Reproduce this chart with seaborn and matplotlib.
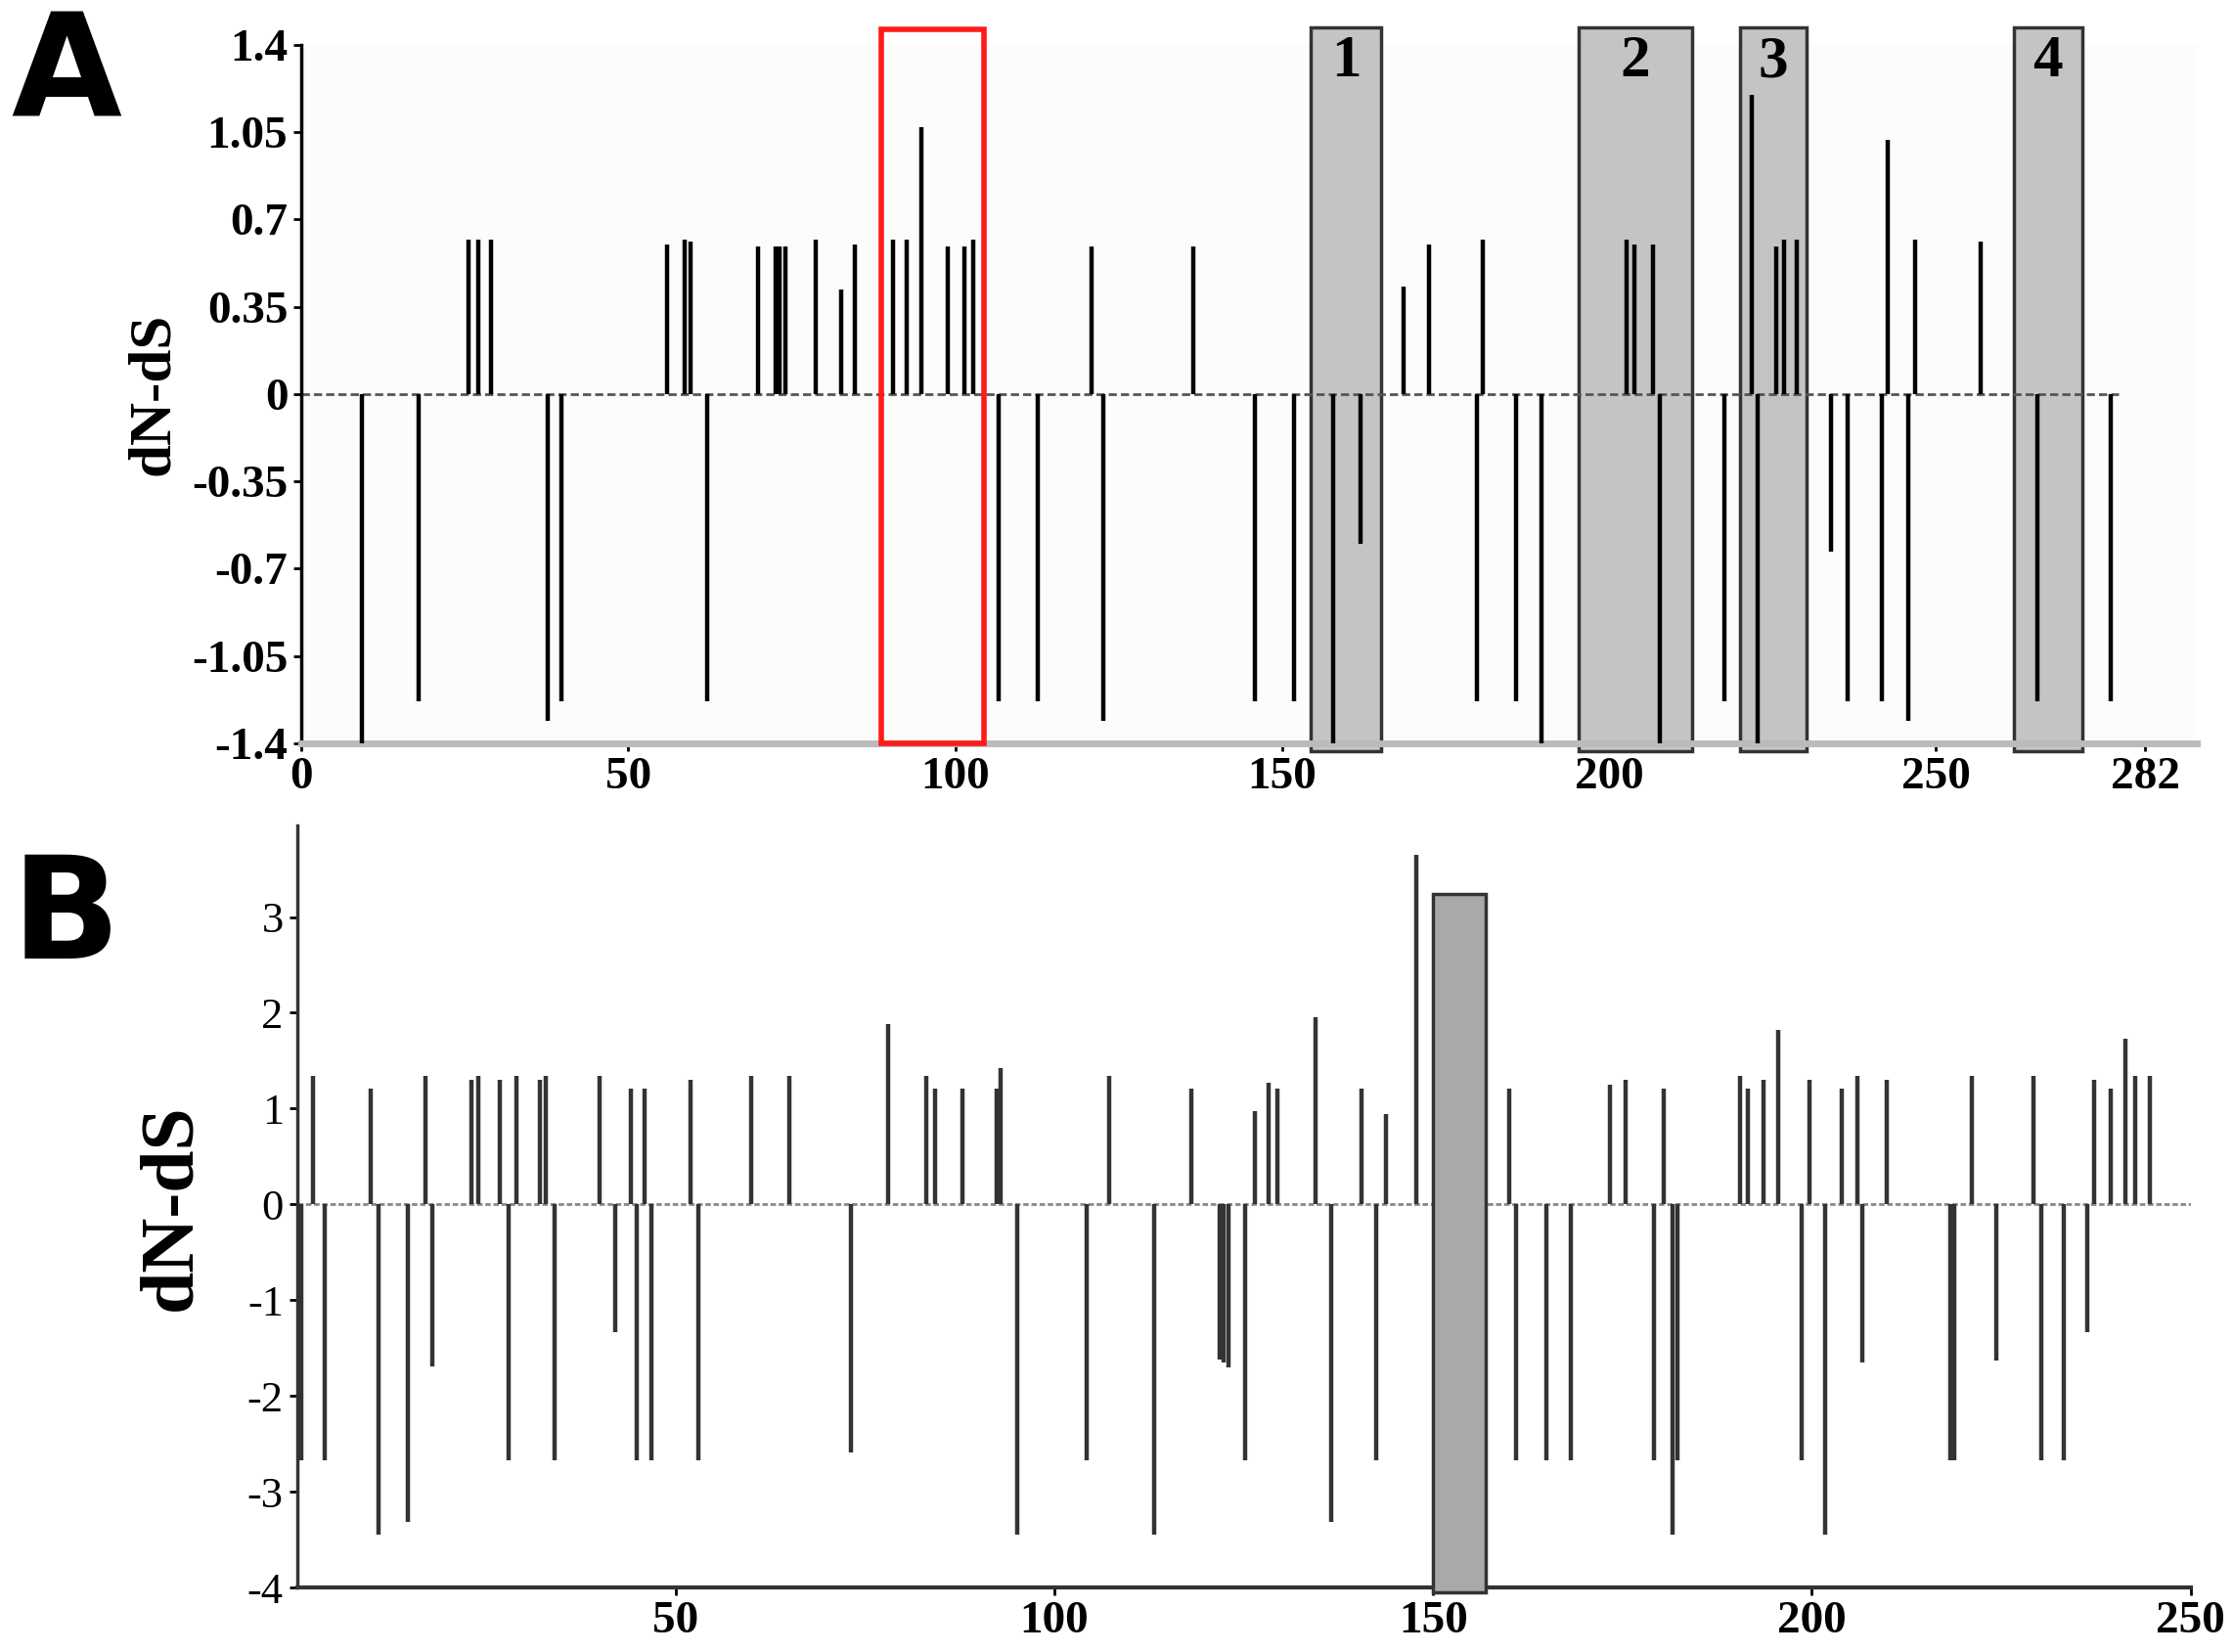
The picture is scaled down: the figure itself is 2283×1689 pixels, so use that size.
import matplotlib
matplotlib.use("Agg")
import matplotlib.pyplot as plt
from matplotlib.patches import Rectangle
import seaborn as sns

# ── Panel A data ──────────────────────────────────────────────────────────────
a_pos = [9.3, 17.9, 37.6, 39.7, 62.0, 106.7, 112.7, 122.6, 145.9, 151.9, 157.8, 162.0,
         179.8, 185.8, 189.7, 207.8, 217.7, 222.7, 233.9, 236.5, 241.7, 245.8, 265.6, 276.8,
         25.6, 27.0, 29.0, 55.9, 58.6, 59.5, 69.8, 72.5, 73.1, 74.0, 78.6, 82.5, 84.6,
         90.5, 92.6, 94.8, 98.8, 101.4, 102.8, 120.8, 136.4, 168.6, 172.5, 180.7, 202.7,
         203.9, 206.7, 221.9, 225.6, 226.8, 228.7, 242.7, 246.8, 256.8]
a_val = [-1.4, -1.23, -1.31, -1.23, -1.23, -1.23, -1.23, -1.31, -1.23, -1.23, -1.4, -0.6,
         -1.23, -1.23, -1.4, -1.4, -1.23, -1.4, -0.63, -1.23, -1.23, -1.31, -1.23, -1.23,
         0.62, 0.62, 0.62, 0.60, 0.62, 0.61, 0.59, 0.59, 0.59, 0.59, 0.62, 0.42, 0.60,
         0.62, 0.62, 1.07, 0.59, 0.59, 0.62, 0.59, 0.59, 0.43, 0.60, 0.62, 0.62,
         0.60, 0.60, 1.20, 0.59, 0.62, 0.62, 1.02, 0.62, 0.61]
a_regions = [(154.4, 165.1, "1"), (195.4, 212.7, "2"), (220.0, 230.3, "3"), (261.9, 272.4, "4")]
a_red = (88.7, 104.4)
a_yticks = [-1.4, -1.05, -0.7, -0.35, 0, 0.35, 0.7, 1.05, 1.4]
a_yticklabels = ["-1.4", "-1.05", "-0.7", "-0.35", "0", "0.35", "0.7", "1.05", "1.4"]
a_xticks = [0, 50, 100, 150, 200, 250, 282]

# ── Panel B data ──────────────────────────────────────────────────────────────
b_pos = [2.1, 9.7, 16.9, 23.0, 24.0, 26.8, 29.0, 32.1, 32.9, 39.9, 44.1, 45.9, 51.9, 60.0,
         65.0, 78.1, 83.1, 84.3, 87.9, 92.4, 92.9, 107.2, 118.1, 126.5, 128.3, 129.5, 134.5,
         140.6, 143.8, 147.8, 150.9, 151.7, 154.0, 160.1, 173.3, 175.4, 180.4, 190.5, 191.6,
         193.6, 195.6, 199.7, 203.9, 206.0, 209.9, 221.1, 229.2, 237.2, 239.4, 241.4, 242.7,
         244.6,
         0.5, 3.7, 10.8, 14.7, 17.9, 27.9, 34.0, 42.0, 44.8, 46.8, 53.0, 73.1, 95.1, 104.3,
         113.2, 121.8, 122.4, 123.0, 125.2, 136.6, 142.5, 161.0, 164.9, 168.2, 179.1, 181.6,
         182.2, 198.7, 201.7, 206.7, 218.3, 218.8, 224.3, 230.3, 233.3, 236.3]
b_val = [1.34, 1.21, 1.34, 1.30, 1.34, 1.30, 1.34, 1.30, 1.34, 1.34, 1.21, 1.21, 1.30, 1.34,
         1.34, 1.88, 1.34, 1.21, 1.21, 1.21, 1.42, 1.34, 1.21, 0.97, 1.27, 1.21, 1.95,
         1.21, 0.94, 3.65, 1.34, 1.21, 1.27, 1.21, 1.25, 1.30, 1.21, 1.34, 1.21,
         1.30, 1.82, 1.30, 1.21, 1.34, 1.30, 1.34, 1.34, 1.30, 1.21, 1.73, 1.34,
         1.34,
         -2.67, -2.67, -3.45, -3.31, -1.69, -2.67, -2.67, -1.33, -2.67, -2.67, -2.67, -2.59,
         -3.45, -2.67, -3.45, -1.62, -1.65, -1.70, -2.67, -3.31, -2.67, -2.67, -2.67, -2.67,
         -2.67, -3.45, -2.67, -2.67, -3.45, -1.65, -2.67, -2.67, -1.63, -2.67, -2.67, -1.33]
b_region = (150.0, 156.9)
b_yticks = [-4, -3, -2, -1, 0, 1, 2, 3]
b_xticks = [50, 100, 150, 200, 250]

sns.set_theme(style="ticks")
plt.rcParams["font.family"] = ["Liberation Serif", "DejaVu Serif"]
plt.rcParams["text.color"] = "black"
plt.rcParams["axes.labelcolor"] = "black"
plt.rcParams["xtick.color"] = "black"
plt.rcParams["ytick.color"] = "black"

fig = plt.figure(figsize=(22.83, 16.89), dpi=100)
ax_a = fig.add_axes([0.135, 0.55, 0.849, 0.423])
ax_b = fig.add_axes([0.133, 0.039, 0.848, 0.461])

tick_kw = dict(fontsize=34, fontweight="bold")

# ── Panel A ───────────────────────────────────────────────────────────────────
for x0, x1, lab in a_regions:
    ax_a.add_patch(Rectangle((x0, -1.43), x1 - x0, 2.9, facecolor="#c4c4c4",
                             edgecolor="#333333", linewidth=2.5, zorder=1, clip_on=False))
    ax_a.text((x0 + x1) / 2, 1.33, lab, ha="center", va="center",
              fontsize=44, fontweight="bold", zorder=4)
ax_a.add_patch(Rectangle((a_red[0], -1.4), a_red[1] - a_red[0], 2.86, facecolor="none",
                         edgecolor="#ff1a1a", linewidth=4, zorder=5, clip_on=False))
ax_a.plot([0, 278], [0, 0], color="#555555", linestyle=(0, (3, 1.5)), linewidth=2, zorder=2)
ax_a.vlines(a_pos, 0, a_val, color="black", linewidth=3.2, zorder=3)
ax_a.set_xlim(0, 290)
ax_a.set_ylim(-1.4, 1.4)
ax_a.set_yticks(a_yticks)
ax_a.set_yticklabels(a_yticklabels, **tick_kw)
ax_a.set_xticks(a_xticks)
ax_a.set_xticklabels([str(t) for t in a_xticks], **tick_kw)
ax_a.set_ylabel("dN-dS", fontsize=44, fontweight="bold", labelpad=8)
ax_a.set_facecolor("#fcfcfc")
for s in ["top", "right"]:
    ax_a.spines[s].set_visible(False)
ax_a.spines["left"].set_linewidth(2.5)
ax_a.spines["left"].set_color("black")
ax_a.spines["bottom"].set_linewidth(5)
ax_a.spines["bottom"].set_color("#bbbbbb")
ax_a.tick_params(axis="both", length=6, width=2, pad=4)

# ── Panel B ───────────────────────────────────────────────────────────────────
ax_b.add_patch(Rectangle((b_region[0], -4.05), b_region[1] - b_region[0], 7.29,
                         facecolor="#a9a9a9", edgecolor="#333333", linewidth=2.5,
                         zorder=4, clip_on=False))
ax_b.plot([0, 250], [0, 0], color="#888888", linestyle=(0, (2, 1)), linewidth=2, zorder=2)
ax_b.vlines(b_pos, 0, b_val, color="#333333", linewidth=3.2, zorder=3)
ax_b.set_xlim(0, 250)
ax_b.set_ylim(-4, 3.95)
ax_b.set_yticks(b_yticks)
ax_b.set_yticklabels([str(t) for t in b_yticks], fontsize=32)
ax_b.set_xticks(b_xticks)
ax_b.set_xticklabels([str(t) for t in b_xticks], **tick_kw)
ax_b.set_ylabel("dN-dS", fontsize=56, fontweight="bold", labelpad=30)
for s in ["top", "right"]:
    ax_b.spines[s].set_visible(False)
ax_b.spines["left"].set_linewidth(2.5)
ax_b.spines["bottom"].set_linewidth(3)
ax_b.spines["left"].set_color("#333333")
ax_b.spines["bottom"].set_color("#333333")
ax_b.tick_params(axis="both", length=6, width=2, pad=4)

# panel letters
fig.text(0.005, 0.93, "A", fontsize=105, fontweight="bold", family="DejaVu Sans")
fig.text(0.005, 0.42, "B", fontsize=105, fontweight="bold", family="DejaVu Sans")

fig.savefig("out.png", dpi=100)
